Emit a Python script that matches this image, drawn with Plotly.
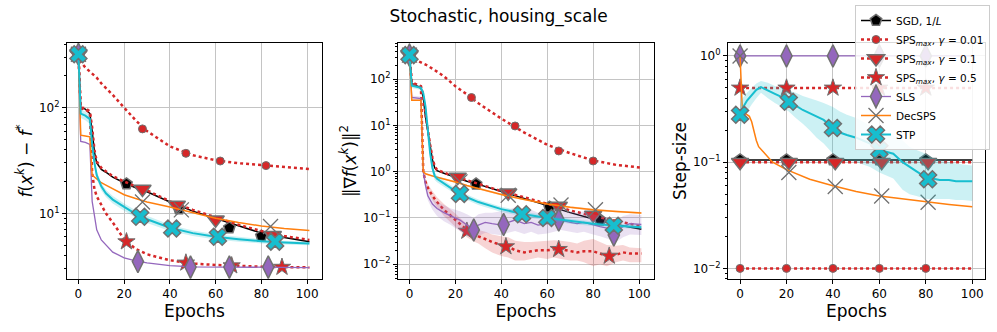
import plotly.graph_objects as go

# ---------------- panel 1: f(x^k) - f* ----------------
ep1 = [0, 1, 3, 5, 6, 7, 8, 10, 12, 15, 20, 25, 30, 40, 50, 60, 70, 80, 90, 101]
f_sgd = [320, 100, 97, 88, 60, 38, 30, 26, 24.5, 22, 19.5, 17.5, 16, 12.8, 10.5, 8.9, 7.6, 6.5, 5.9, 5.4]
f_sps01 = [320, 272, 240, 219, 210, 200, 192, 170, 155, 132, 100, 76, 60, 43, 35.5, 31.8, 29.8, 28.5, 27.3, 26.3]
f_sps1 = [320, 100, 99, 92, 65, 40, 31, 27, 25, 22.5, 20, 18, 16.5, 13, 10.8, 9.1, 7.8, 6.8, 6.1, 5.6]
f_sps5 = [320, 98, 96, 90, 24, 17, 14.5, 12, 10, 8.2, 5.7, 4.6, 4.1, 3.6, 3.35, 3.25, 3.18, 3.13, 3.1, 3.08]
f_sls = [320, 48, 47, 45, 13, 9, 7, 5.6, 5, 4.3, 3.8, 3.55, 3.4, 3.2, 3.12, 3.1, 3.08, 3.07, 3.07, 3.07]
f_dec = [320, 55, 54, 53, 23, 22, 21, 19.5, 18.5, 17, 15, 13.8, 12.8, 11.5, 10.1, 9.0, 8.2, 7.6, 7.2, 6.9]
f_stp = [320, 88, 84, 78, 45, 30, 23, 18, 15.5, 13.5, 11.5, 9.9, 8.8, 7.3, 6.5, 6.0, 5.7, 5.45, 5.3, 5.2]
f_stp_lo = [300, 80, 76, 70, 40, 27, 21, 16.5, 14.3, 12.4, 10.6, 9.1, 8.1, 6.8, 6.1, 5.65, 5.4, 5.2, 5.08, 5.0]
f_stp_hi = [340, 96, 92, 86, 50, 33, 25, 19.5, 16.7, 14.6, 12.4, 10.7, 9.5, 7.8, 6.9, 6.35, 6.0, 5.7, 5.52, 5.4]

f_mk = {
    "sgd": ([0, 21, 44, 66, 80], [320, 19, 11, 7.3, 6.1]),
    "sps01": ([0, 28, 47, 62, 82], [320, 63, 37, 31.3, 28.3]),
    "sps1": ([0, 28, 43, 60, 85], [320, 17, 12, 8.7, 6.2]),
    "sps5": ([0, 21, 47, 67, 89], [320, 5.4, 3.4, 3.2, 3.1]),
    "sls": ([0, 26, 49, 66, 83], [320, 3.5, 3.1, 3.1, 3.1]),
    "dec": ([0, 28, 45, 84], [320, 12.8, 10.8, 7.5]),
    "stp": ([0, 27, 41, 61, 86], [320, 9.3, 7.2, 6.0, 5.4]),
}

# ---------------- panel 2: ||grad f(x^k)||^2 ----------------
ep2 = [0, 1, 5, 6, 7, 8, 9, 10, 11, 12, 15, 20, 25, 30, 40, 50, 60, 70, 80, 90, 101]
g_sgd = [330, 80, 65, 40, 15, 6.8, 3.5, 1.8, 1.2, 1.05, 0.92, 0.75, 0.62, 0.53, 0.37, 0.26, 0.18, 0.13, 0.095, 0.072, 0.057]
g_sps01 = [330, 280, 230, 220, 210, 195, 180, 165, 155, 145, 115, 70, 47, 30, 14, 7, 3.8, 2.5, 1.75, 1.4, 1.22]
g_sps1 = [330, 85, 70, 45, 17, 7.5, 3.8, 2.0, 1.3, 1.1, 0.95, 0.78, 0.65, 0.55, 0.38, 0.28, 0.2, 0.145, 0.11, 0.085, 0.066]
g_dec = [330, 35, 35, 1.0, 0.9, 0.86, 0.83, 0.8, 0.78, 0.76, 0.7, 0.6, 0.5, 0.43, 0.32, 0.25, 0.2, 0.17, 0.15, 0.138, 0.128]
g_dec_lo = [320, 34, 34, 0.96, 0.87, 0.83, 0.8, 0.77, 0.75, 0.73, 0.67, 0.57, 0.48, 0.41, 0.305, 0.24, 0.19, 0.162, 0.143, 0.132, 0.122]
g_dec_hi = [340, 36, 36, 1.04, 0.93, 0.89, 0.86, 0.83, 0.81, 0.79, 0.73, 0.63, 0.52, 0.45, 0.335, 0.26, 0.21, 0.178, 0.157, 0.144, 0.134]
g_stp = [330, 72, 65, 50, 25, 8, 2.5, 1.2, 0.8, 0.7, 0.55, 0.38, 0.28, 0.22, 0.155, 0.12, 0.1, 0.085, 0.075, 0.068, 0.063]
g_stp_lo = [310, 64, 58, 44, 20, 6, 1.9, 0.95, 0.66, 0.59, 0.47, 0.33, 0.245, 0.19, 0.135, 0.105, 0.088, 0.075, 0.067, 0.061, 0.057]
g_stp_hi = [350, 80, 72, 56, 30, 10, 3.2, 1.5, 0.96, 0.82, 0.64, 0.44, 0.32, 0.25, 0.175, 0.136, 0.113, 0.096, 0.084, 0.076, 0.07]

ep2n = [0, 1, 5, 6, 7, 8, 10, 12, 15, 18, 20, 22, 25, 28, 30, 33, 36, 40, 43, 46, 50,
        53, 56, 60, 63, 66, 70, 73, 76, 80, 83, 86, 90, 93, 96, 101]
g_sls = [330, 40, 38, 1.0, 0.5, 0.3, 0.2, 0.16, 0.13, 0.11, 0.1, 0.09, 0.07, 0.055, 0.07, 0.08, 0.075, 0.07,
         0.08, 0.09, 0.075, 0.08, 0.07, 0.075, 0.085, 0.09, 0.08, 0.075, 0.08, 0.07, 0.065, 0.06, 0.05, 0.065, 0.075, 0.072]
g_sls_lo = [320, 36, 34, 0.8, 0.4, 0.24, 0.15, 0.11, 0.085, 0.07, 0.06, 0.052, 0.042, 0.035, 0.04, 0.048, 0.045, 0.042,
            0.048, 0.052, 0.045, 0.05, 0.044, 0.046, 0.05, 0.055, 0.05, 0.047, 0.05, 0.044, 0.04, 0.036, 0.03, 0.038, 0.044, 0.043]
g_sls_hi = [340, 44, 42, 1.2, 0.62, 0.38, 0.26, 0.22, 0.19, 0.16, 0.15, 0.14, 0.12, 0.1, 0.12, 0.13, 0.13, 0.14,
            0.15, 0.17, 0.15, 0.15, 0.13, 0.13, 0.15, 0.16, 0.14, 0.13, 0.14, 0.12, 0.11, 0.1, 0.085, 0.11, 0.12, 0.115]
g_sps5 = [330, 80, 65, 1.0, 0.6, 0.45, 0.3, 0.22, 0.15, 0.11, 0.09, 0.075, 0.055, 0.045, 0.04, 0.035, 0.03, 0.026,
          0.024, 0.02, 0.018, 0.019, 0.02, 0.02, 0.021, 0.021, 0.019, 0.018, 0.019, 0.019, 0.017, 0.015, 0.016, 0.018, 0.017, 0.017]
g_sps5_lo = [320, 76, 62, 0.9, 0.52, 0.38, 0.24, 0.17, 0.11, 0.08, 0.064, 0.052, 0.038, 0.031, 0.028, 0.022, 0.018, 0.015,
             0.014, 0.012, 0.012, 0.013, 0.014, 0.013, 0.014, 0.013, 0.012, 0.012, 0.011, 0.009, 0.01, 0.009, 0.011, 0.012, 0.011, 0.011]
g_sps5_hi = [340, 84, 68, 1.1, 0.7, 0.54, 0.38, 0.28, 0.2, 0.15, 0.125, 0.1, 0.075, 0.062, 0.055, 0.05, 0.044, 0.04,
             0.038, 0.032, 0.03, 0.03, 0.031, 0.032, 0.033, 0.032, 0.03, 0.028, 0.032, 0.035, 0.03, 0.026, 0.025, 0.026, 0.023, 0.022]

g_mk = {
    "sgd": ([0, 29, 61, 83], [330, 0.54, 0.17, 0.09]),
    "sps01": ([0, 27, 46, 65, 80], [330, 40, 9.7, 2.8, 1.7]),
    "sps1": ([0, 21, 43, 65, 80], [330, 0.77, 0.35, 0.18, 0.115]),
    "sps5": ([0, 25, 42, 65, 87], [330, 0.052, 0.024, 0.021, 0.015]),
    "sls": ([0, 28, 41, 65, 89], [330, 0.055, 0.072, 0.09, 0.043]),
    "dec": ([0, 22, 43, 66, 81], [330, 0.6, 0.31, 0.19, 0.15]),
    "stp": ([0, 22, 49, 60, 89], [330, 0.33, 0.12, 0.1, 0.068]),
}

# ---------------- panel 3: step-size ----------------
ep3c = [0, 100]
s_sgd = [0.105, 0.105]
s_sps01 = [0.01, 0.01]
s_sps1 = [0.1, 0.1]
s_sps5 = [0.5, 0.5]
s_sls = [1.0, 1.0]
ep3d = [0, 1, 2, 3, 4, 5, 6, 7, 8, 10, 14, 20, 30, 40, 50, 60, 70, 80, 90, 100]
s_dec = [1.0, 0.3, 0.29, 0.28, 0.27, 0.24, 0.19, 0.16, 0.14, 0.125, 0.1, 0.085, 0.069, 0.06, 0.053, 0.048, 0.045, 0.042, 0.04, 0.038]
ep3s = [0, 1, 3, 5, 7, 9, 12, 15, 18, 21, 24, 27, 30, 33, 36, 40, 43, 46, 50, 53, 56,
        60, 63, 66, 70, 73, 76, 80, 83, 86, 90, 93, 96, 100]
s_stp = [0.28, 0.32, 0.38, 0.43, 0.48, 0.51, 0.47, 0.44, 0.41, 0.37, 0.34, 0.31, 0.29, 0.27, 0.25, 0.21, 0.19, 0.18,
         0.17, 0.16, 0.15, 0.13, 0.125, 0.12, 0.1, 0.09, 0.082, 0.072, 0.07, 0.068, 0.068, 0.066, 0.066, 0.066]
s_stp_lo = [0.2, 0.25, 0.3, 0.35, 0.4, 0.45, 0.4, 0.36, 0.33, 0.3, 0.26, 0.23, 0.2, 0.17, 0.15, 0.12, 0.11, 0.105,
            0.1, 0.095, 0.09, 0.08, 0.075, 0.07, 0.055, 0.05, 0.048, 0.045, 0.045, 0.045, 0.045, 0.044, 0.044, 0.043]
s_stp_hi = [0.35, 0.4, 0.45, 0.5, 0.55, 0.58, 0.56, 0.52, 0.5, 0.47, 0.45, 0.42, 0.4, 0.38, 0.36, 0.33, 0.3, 0.28,
            0.26, 0.24, 0.22, 0.2, 0.19, 0.18, 0.16, 0.14, 0.13, 0.12, 0.11, 0.105, 0.1, 0.097, 0.095, 0.093]

s_mk = {
    "sgd": ([0, 20, 40, 60, 80], [0.105] * 5),
    "sps01": ([0, 20, 40, 60, 80], [0.01] * 5),
    "sps1": ([0, 21, 41, 61, 81], [0.1] * 5),
    "sps5": ([0, 20, 40, 60, 80], [0.5] * 5),
    "sls": ([0, 20, 40, 60, 80], [1.0] * 5),
    "dec": ([0, 21, 41, 61, 81], [1.0, 0.08, 0.059, 0.048, 0.042]),
    "stp": ([0, 21, 40, 60, 81], [0.28, 0.37, 0.21, 0.13, 0.069]),
}

names = {
    "sgd": "SGD, 1/<i>L</i>",
    "sps01": "SPS<sub><i>max</i></sub>, <i>γ</i> = 0.01",
    "sps1": "SPS<sub><i>max</i></sub>, <i>γ</i> = 0.1",
    "sps5": "SPS<sub><i>max</i></sub>, <i>γ</i> = 0.5",
    "sls": "SLS",
    "dec": "DecSPS",
    "stp": "STP",
}

EDGE = "#707070"
RED = "#d62728"
style = {
    "sgd": dict(line=dict(color="black", width=1.5),
                marker=dict(symbol="pentagon", size=12, color="black", line=dict(color=EDGE, width=1.5))),
    "sps01": dict(line=dict(color=RED, width=2.5, dash="dot"),
                  marker=dict(symbol="circle", size=8, color=RED, line=dict(color=EDGE, width=1))),
    "sps1": dict(line=dict(color=RED, width=2.5, dash="dot"),
                 marker=dict(symbol="triangle-down", size=15, color=RED, line=dict(color=EDGE, width=1.5))),
    "sps5": dict(line=dict(color=RED, width=2.5, dash="dot"),
                 marker=dict(symbol="star", size=13, color=RED, line=dict(color=EDGE, width=1))),
    "sls": dict(line=dict(color="#9467bd", width=1.3),
                marker=dict(symbol="diamond-tall", size=16, color="#9467bd", line=dict(color=EDGE, width=1.5))),
    "dec": dict(line=dict(color="#ff7f0e", width=1.5),
                marker=dict(symbol="x-thin", size=15, color=EDGE, line=dict(color=EDGE, width=1.3))),
    "stp": dict(line=dict(color="#17becf", width=2),
                marker=dict(symbol="x", size=15, color="#17becf", line=dict(color=EDGE, width=1.5))),
}
band_color = {"stp": "rgba(23,190,207,0.22)", "sls": "rgba(148,103,189,0.2)",
              "sps5": "rgba(214,39,40,0.2)", "dec": "rgba(255,127,14,0.3)"}

fig = go.Figure()


def band(ax, key, x, lo, hi):
    fig.add_trace(go.Scatter(x=x + x[::-1], y=hi + lo[::-1], fill="toself", mode="none",
                             fillcolor=band_color[key], showlegend=False, hoverinfo="skip",
                             xaxis="x" + ax, yaxis="y" + ax))


def series(ax, key, x, y, mk):
    fig.add_trace(go.Scatter(x=x, y=y, mode="lines", line=style[key]["line"], showlegend=False,
                             xaxis="x" + ax, yaxis="y" + ax))
    fig.add_trace(go.Scatter(x=mk[0], y=mk[1], mode="markers", marker=style[key]["marker"],
                             showlegend=False, xaxis="x" + ax, yaxis="y" + ax))


# panel 1
series("", "sgd", ep1, f_sgd, f_mk["sgd"])
series("", "sps01", ep1, f_sps01, f_mk["sps01"])
series("", "sps1", ep1, f_sps1, f_mk["sps1"])
series("", "sps5", ep1, f_sps5, f_mk["sps5"])
series("", "sls", ep1, f_sls, f_mk["sls"])
series("", "dec", ep1, f_dec, f_mk["dec"])
band("", "stp", ep1, f_stp_lo, f_stp_hi)
series("", "stp", ep1, f_stp, f_mk["stp"])

# panel 2
series("2", "sgd", ep2, g_sgd, g_mk["sgd"])
series("2", "sps01", ep2, g_sps01, g_mk["sps01"])
series("2", "sps1", ep2, g_sps1, g_mk["sps1"])
band("2", "sps5", ep2n, g_sps5_lo, g_sps5_hi)
series("2", "sps5", ep2n, g_sps5, g_mk["sps5"])
band("2", "sls", ep2n, g_sls_lo, g_sls_hi)
series("2", "sls", ep2n, g_sls, g_mk["sls"])
band("2", "dec", ep2, g_dec_lo, g_dec_hi)
series("2", "dec", ep2, g_dec, g_mk["dec"])
band("2", "stp", ep2, g_stp_lo, g_stp_hi)
series("2", "stp", ep2, g_stp, g_mk["stp"])

# panel 3
series("3", "sgd", ep3c, s_sgd, s_mk["sgd"])
series("3", "sps01", ep3c, s_sps01, s_mk["sps01"])
series("3", "sps1", ep3c, s_sps1, s_mk["sps1"])
series("3", "sps5", ep3c, s_sps5, s_mk["sps5"])
series("3", "sls", ep3c, s_sls, s_mk["sls"])
series("3", "dec", ep3d, s_dec, s_mk["dec"])
band("3", "stp", ep3s, s_stp_lo, s_stp_hi)
series("3", "stp", ep3s, s_stp, s_mk["stp"])

# legend entries
for key in ["sgd", "sps01", "sps1", "sps5", "sls", "dec", "stp"]:
    fig.add_trace(go.Scatter(x=[None], y=[None], mode="lines+markers", name=names[key],
                             line=style[key]["line"], marker=style[key]["marker"],
                             xaxis="x3", yaxis="y3"))

FONT = "DejaVu Sans"


def sup(e):
    return "10<sup>" + (str(e) if e >= 0 else "\u2212" + str(-e)) + "</sup>"


def logaxis(dom, anchor, rng, decs, title):
    minors = [m * 10 ** d for d in range(min(decs) - 1, max(decs) + 2) for m in range(2, 10)]
    return dict(domain=dom, anchor=anchor, type="log", range=rng, tickvals=[10 ** d for d in decs],
                ticktext=[sup(d) for d in decs], showgrid=True, gridcolor="#c4c4c4", gridwidth=0.8,
                showline=True, linecolor="black", linewidth=1, mirror=True, ticks="outside",
                ticklen=4, tickcolor="black", zeroline=False, automargin=False,
                minor=dict(tickvals=minors, ticks="outside", ticklen=2, tickcolor="black", showgrid=False),
                title=dict(text=title, font=dict(size=17), standoff=2), tickfont=dict(size=12))


def linaxis(dom, anchor, rng):
    return dict(domain=dom, anchor=anchor, range=rng, tickvals=[0, 20, 40, 60, 80, 100], showgrid=True,
                gridcolor="#c4c4c4", gridwidth=0.8, showline=True, linecolor="black", linewidth=1,
                mirror=True, ticks="outside", ticklen=4, tickcolor="black", zeroline=False, automargin=False,
                title=dict(text="Epochs", font=dict(size=17), standoff=2), tickfont=dict(size=12))


ydom = [1 - 279 / 332, 1 - 43 / 332]
fig.update_layout(
    template="none",
    width=997, height=332,
    margin=dict(l=0, r=0, t=0, b=0),
    paper_bgcolor="white", plot_bgcolor="white",
    font=dict(family=FONT, color="black", size=12),
    title=dict(text="Stochastic, housing_scale", x=0.5, xanchor="center", y=1 - 16 / 332,
               yanchor="middle", font=dict(size=17)),
    xaxis=linaxis([67 / 997, 322 / 997], "y", [-5, 106.5]),
    xaxis2=linaxis([398 / 997, 654 / 997], "y2", [-5, 106.5]),
    xaxis3=linaxis([728 / 997, 985 / 997], "y3", [-5.2, 105.5]),
    yaxis=logaxis(ydom, "x", [0.379, 2.612], [1, 2], "<i>f</i>(<i>x</i><sup><i>k</i></sup>) \u2212 <i>f</i><sup>*</sup>"),
    yaxis2=logaxis(ydom, "x2", [-2.32, 2.78], [-2, -1, 0, 1, 2], "\u2016\u2207<i>f</i>(<i>x</i><sup><i>k</i></sup>)\u2016<sup>2</sup>"),
    yaxis3=logaxis(ydom, "x3", [-2.10, 0.122], [-2, -1, 0], "Step-size"),
    legend=dict(x=990 / 997, xanchor="right", y=1 - 5 / 332, yanchor="top",
                bgcolor="rgba(255,255,255,0.85)", bordercolor="#cccccc", borderwidth=1,
                font=dict(size=10.5), tracegroupgap=0),
    showlegend=True,
)

# the page body has a default 8px margin; drop it so the figure sits at the window origin
fig.write_html("out.html", config={"displayModeBar": False},
               post_script="document.body.style.margin='0px';")
